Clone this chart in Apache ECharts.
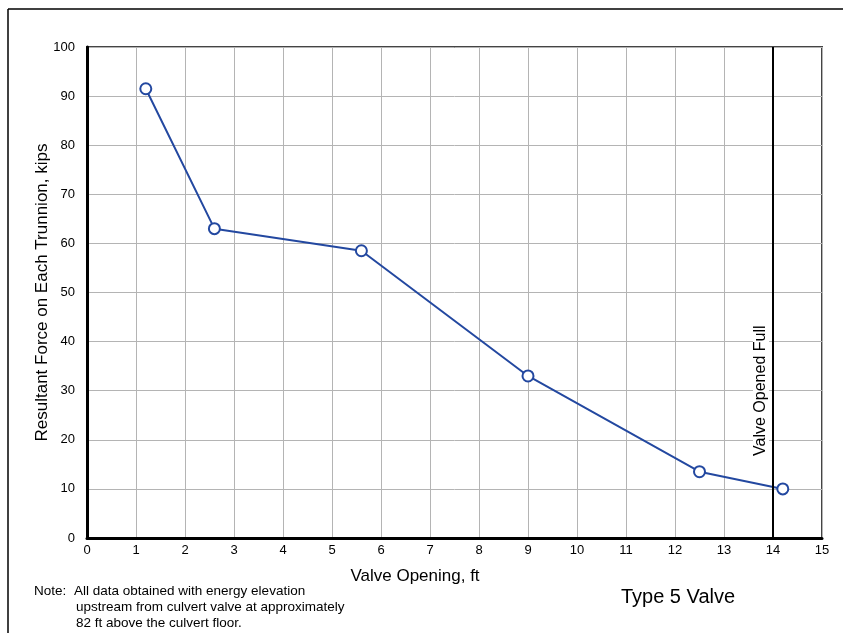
<!DOCTYPE html>
<html>
<head>
<meta charset="UTF-8">
<title>Type 5 Valve</title>
<script src="https://cdn.jsdelivr.net/npm/echarts@6/dist/echarts.min.js"></script>
<style>
  html, body { margin: 0; padding: 0; background: #fff; }
  #chart { width: 843px; height: 633px; }
</style>
</head>
<body>
<div id="chart"></div>
<script>
// valve opening (ft) and resultant force (kips)
var opening = [1.2, 2.6, 5.6, 9.0, 12.5, 14.2];
var force = [91.5, 63, 58.5, 33, 13.5, 10];
var fullOpen = 14;
var noteHead = 'Note:';
var noteLines = [
    'All data obtained with energy elevation',
    'upstream from culvert valve at approximately',
    '82 ft above the culvert floor.'
];

var font = '"Liberation Sans", Arial, sans-serif';
var points = opening.map(function (x, i) { return [x, force[i]]; });

var chart = echarts.init(document.getElementById('chart'));
chart.setOption({
    animation: false,
    grid: {
        left: 87, top: 47, right: 21, bottom: 95,
        show: true, borderColor: '#444', borderWidth: 2
    },
    xAxis: {
        type: 'value', min: 0, max: 15, interval: 1,
        axisLine: { onZero: false, lineStyle: { color: '#000', width: 3 } },
        axisTick: { show: false },
        axisLabel: { color: '#000', fontSize: 13, fontFamily: font, margin: 6 },
        splitLine: { lineStyle: { color: '#b4b4b4', width: 1 } }
    },
    yAxis: {
        type: 'value', min: 0, max: 100, interval: 10,
        name: 'Resultant Force on Each Trunnion, kips',
        nameLocation: 'middle', nameGap: 36, nameMoveOverlap: false,
        nameTextStyle: { color: '#000', fontSize: 17, fontFamily: font },
        axisLine: { lineStyle: { color: '#000', width: 3 } },
        axisTick: { show: false },
        axisLabel: { color: '#000', fontSize: 13, fontFamily: font, margin: 12 },
        splitLine: { lineStyle: { color: '#b4b4b4', width: 1 } }
    },
    series: [{
        type: 'line',
        data: points,
        symbol: 'emptyCircle',
        symbolSize: 11,
        lineStyle: { color: '#2348a0', width: 2 },
        itemStyle: { color: '#2348a0', borderWidth: 1 },
        markLine: {
            silent: true,
            symbol: 'none',
            label: { show: false },
            lineStyle: { color: '#000', width: 2, type: 'solid' },
            data: [{ xAxis: fullOpen }]
        },
        z: 3
    }]
});

var p = chart.convertToPixel({ gridIndex: 0 }, [fullOpen, 30]);
var graphics = [
    { type: 'line', shape: { x1: 8, y1: 9, x2: 843, y2: 9 }, style: { stroke: '#000', lineWidth: 1.5 } },
    { type: 'line', shape: { x1: 8, y1: 9, x2: 8, y2: 633 }, style: { stroke: '#000', lineWidth: 1.5 } },
    {
        type: 'text', x: p[0] - 12, y: p[1], rotation: Math.PI / 2,
        style: {
            text: 'Valve Opened Full', font: '16px ' + font, fill: '#000',
            align: 'center', verticalAlign: 'middle',
            backgroundColor: '#fff', padding: [0, 3]
        },
        z: 10
    },
    {
        type: 'text', x: 415, y: 576,
        style: { text: 'Valve Opening, ft', font: '17px ' + font, fill: '#000', align: 'center', verticalAlign: 'middle' }
    },
    {
        type: 'text', x: 678, y: 597,
        style: { text: 'Type 5 Valve', font: '20px ' + font, fill: '#000', align: 'center', verticalAlign: 'middle' }
    },
    {
        type: 'text', x: 34, y: 591,
        style: { text: noteHead, font: '13.5px ' + font, fill: '#000', verticalAlign: 'middle' }
    }
];
noteLines.forEach(function (line, i) {
    graphics.push({
        type: 'text', x: i === 0 ? 74 : 76, y: 591 + i * 16,
        style: { text: line, font: '13.5px ' + font, fill: '#000', verticalAlign: 'middle' }
    });
});
chart.setOption({ graphic: graphics });
</script>
</body>
</html>
